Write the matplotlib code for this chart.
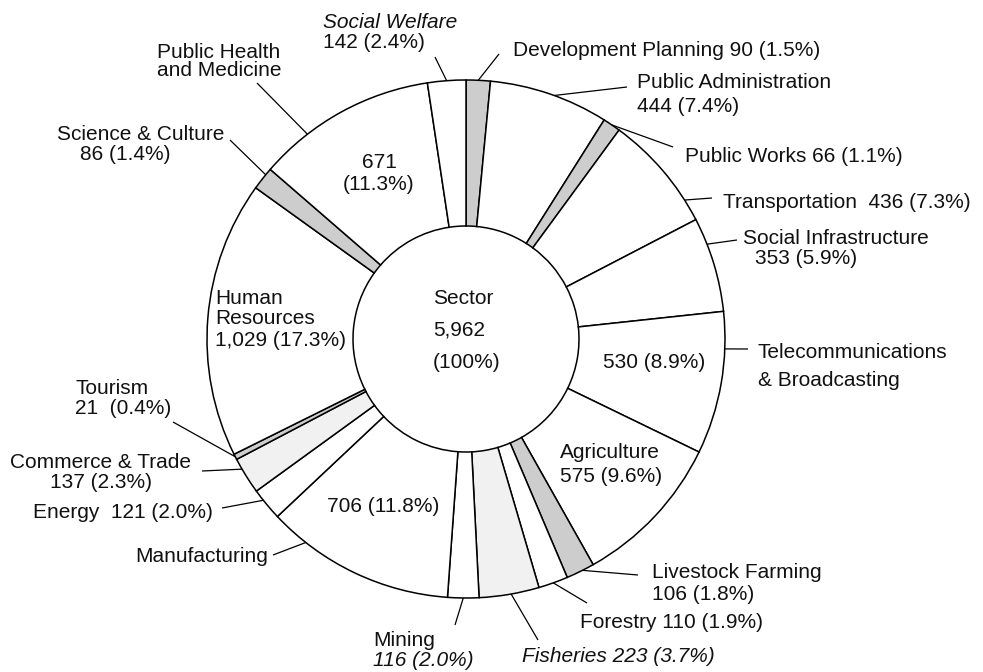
import numpy as np
import matplotlib
matplotlib.use("Agg")
import matplotlib.pyplot as plt

plt.rcParams['font.family'] = ['Liberation Sans', 'DejaVu Sans']

# sectors clockwise from the top
sectors = ["Development Planning", "Public Administration", "Public Works", "Transportation",
           "Social Infrastructure", "Telecommunications & Broadcasting", "Agriculture",
           "Livestock Farming", "Forestry", "Fisheries", "Mining", "Manufacturing", "Energy",
           "Commerce & Trade", "Tourism", "Human Resources", "Science & Culture",
           "Public Health and Medicine", "Social Welfare"]
values = [90, 444, 66, 436, 353, 530, 575, 106, 110, 223, 116, 706, 121, 137, 21, 1029, 86, 671, 142]
percents = [1.5, 7.4, 1.1, 7.3, 5.9, 8.9, 9.6, 1.8, 1.9, 3.7, 2.0, 11.8, 2.0, 2.3, 0.4, 17.3, 1.4, 11.3, 2.4]
shade = ["dense", "none", "dense", "none", "none", "none", "none", "dense", "none", "light",
         "none", "none", "none", "light", "dense", "none", "dense", "none", "none"]

W, H = 983, 672
CX, CY = 466, 339          # pixel centre (y down)
R, r = 259, 113

fills = {"dense": "#cdcdcd", "light": "#f1f1f1", "none": "white"}


def P(x, y):
    return x, H - y


def num(i):
    return f"{values[i]:,} ({percents[i]:.1f}%)"


fig = plt.figure(figsize=(W / 100, H / 100), dpi=100)
ax = fig.add_axes([0, 0, 1, 1])
wedges, _ = ax.pie(values, radius=R, center=P(CX, CY), startangle=90, counterclock=False,
                   colors=[fills[s] for s in shade],
                   wedgeprops=dict(width=R - r, edgecolor="black", linewidth=1.1))
ax.set_xlim(0, W)
ax.set_ylim(0, H)
ax.set_aspect("equal")
ax.axis("off")

FS = 15

# outside labels: (index, lines[(text, x, y, italic)], ha, leader end, anchor fraction)
labels = [
    (0, [(f"{sectors[0]} {values[0]} ({percents[0]}%)", 513, 50, False)], "left", (499, 54), 0.5),
    (1, [(sectors[1], 637, 83, False), (num(1), 637, 107, False)], "left", (627, 87), 0.54),
    (2, [(f"{sectors[2]} {num(2)}", 685, 157, False)], "left", (673, 147), 0.5),
    (3, [(f"{sectors[3]}  {num(3)}", 723, 202, False)], "left", (712, 198), 0.81),
    (4, [(sectors[4], 743, 238, False), (num(4), 755, 258, False)], "left", (737, 240), 0.28),
    (5, [("Telecommunications", 758, 353, False), ("& Broadcasting", 758, 380, False)], "left", (748, 349), 0.26),
    (7, [(sectors[7], 652, 573, False), (num(7), 652, 594, False)], "left", (638, 575), 0.42),
    (8, [(f"{sectors[8]} {num(8)}", 580, 622, False)], "left", (587, 603), 0.5),
    (9, [(f"{sectors[9]} {num(9)}", 522, 657, True)], "left", (538, 640), 0.47),
    (10, [(sectors[10], 373, 640, False), (num(10), 373, 660, True)], "left", (455, 625), 0.5),
    (11, [(sectors[11], 268, 557, False)], "right", (273, 555), 0.8),
    (12, [(f"{sectors[12]}  {num(12)}", 213, 513, False)], "right", (222, 508), 0.65),
    (13, [(sectors[13], 10, 462, False), (num(13), 50, 482, False)], "left", (202, 471), 0.7),
    (14, [(sectors[14], 75, 388, False), (f"{values[14]}  ({percents[14]}%)", 75, 408, False)], "left", (173, 422), 0.5),
    (16, [(sectors[16], 57, 135, False), (num(16), 80, 154, False)], "left", (230, 140), 0.7),
    (17, [("Public Health", 157, 52, False), ("and Medicine", 157, 71, False)], "left", (257, 83), 0.28),
    (18, [(sectors[18], 323, 22, True), (num(18), 323, 42, False)], "left", (435, 57), 0.5),
]

for i, lines, ha, end, f in labels:
    w = wedges[i]
    ang = np.radians(w.theta2 - f * (w.theta2 - w.theta1))
    x0, y0 = w.center[0] + R * np.cos(ang), w.center[1] + R * np.sin(ang)
    ax.plot([x0, P(*end)[0]], [y0, P(*end)[1]], color="black", lw=0.9, solid_capstyle="butt")
    for txt, x, y, it in lines:
        ax.text(*P(x, y), txt, ha=ha, va="center", fontsize=FS,
                style="italic" if it else "normal", color="#111111")

# labels inside the ring
inside = [
    ("Agriculture", 560, 453, "left"), (num(6), 560, 477, "left"),
    (f"{values[5]} ({percents[5]}%)", 705, 362, "right"),
    (f"{values[11]} ({percents[11]}%)", 327, 507, "left"),
    ("Human", 215, 298, "left"), ("Resources", 215, 319, "left"), (num(15), 215, 340, "left"),
    (f"{values[17]}", 379, 162, "center"), (f"({percents[17]}%)", 379, 184, "center"),
]
for txt, x, y, ha in inside:
    ax.text(*P(x, y), txt, ha=ha, va="center", fontsize=FS, color="#111111")

# centre
total = sum(values)
for txt, y in [("Sector", 298), (f"{total:,}", 330), ("(100%)", 362)]:
    ax.text(*P(433, y), txt, ha="left", va="center", fontsize=FS, color="#111111")

fig.savefig("out.png", dpi=100)
